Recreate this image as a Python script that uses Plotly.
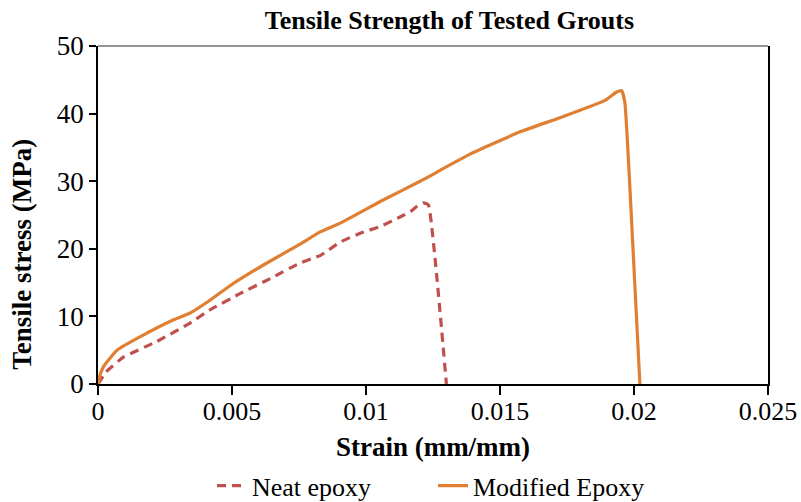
import plotly.graph_objects as go

# Data (strain mm/mm, stress MPa)
neat_strain = [0.0, 0.0003, 0.00096, 0.0022, 0.00343, 0.00415, 0.00531, 0.00643, 0.00754,
               0.00829, 0.00904, 0.00978, 0.01053, 0.01127, 0.01166, 0.01190, 0.01213,
               0.01233, 0.0130]
neat_stress = [0.0, 1.8, 4.0, 6.3, 9.0, 10.9, 13.4, 15.6, 17.9,
               19.0, 21.0, 22.3, 23.3, 24.7, 25.5, 26.3, 26.8,
               26.5, 0.0]

mod_strain = [0.0, 0.00005, 0.00021, 0.00071, 0.00158, 0.00282, 0.00344, 0.00411, 0.00506,
              0.0063, 0.00754, 0.00829, 0.00904, 0.01053, 0.01202, 0.01388, 0.01575,
              0.01724, 0.01894, 0.01935, 0.01954, 0.01966, 0.01994, 0.02022]
mod_stress = [0.0, 1.0, 2.6, 5.0, 7.0, 9.5, 10.5, 12.2, 14.9,
              17.9, 20.7, 22.5, 23.8, 27.0, 30.0, 34.0, 37.3,
              39.4, 42.0, 43.2, 43.4, 41.6, 21.8, 0.0]

x_ticks = [0, 0.005, 0.01, 0.015, 0.02, 0.025]
x_tick_labels = ["0", "0.005", "0.01", "0.015", "0.02", "0.025"]
y_ticks = [0, 10, 20, 30, 40, 50]

FONT = "Liberation Serif, Times New Roman, serif"

fig = go.Figure()
fig.add_trace(go.Scatter(
    x=neat_strain, y=neat_stress, mode="lines", name="Neat epoxy",
    line=dict(color="#C0504D", width=3.2, dash="9px,6px", shape="spline", smoothing=0.3),
))
fig.add_trace(go.Scatter(
    x=mod_strain, y=mod_stress, mode="lines", name="Modified Epoxy",
    line=dict(color="#E07F32", width=3.2, shape="spline", smoothing=0.4),
))

fig.update_layout(
    width=801, height=502,
    margin=dict(l=97.6, r=32.7, t=45.7, b=118, autoexpand=False),
    paper_bgcolor="white", plot_bgcolor="white",
    font=dict(family=FONT, size=27, color="black"),
    title=dict(text="<b>Tensile Strength of Tested Grouts</b>", x=0.561, xanchor="center",
               y=0.960, yanchor="middle", font=dict(family=FONT, size=26, color="black")),
    showlegend=True,
    legend=dict(orientation="h", x=0.50, xanchor="center", yref="container", y=0.0325,
                yanchor="middle", entrywidth=176, entrywidthmode="pixels",
                font=dict(family=FONT, size=26, color="black"),
                bgcolor="rgba(0,0,0,0)"),
)

fig.update_xaxes(
    range=[0, 0.025], tickvals=x_ticks, ticktext=x_tick_labels, automargin=False,
    showgrid=False, zeroline=False, showline=True, linecolor="black", linewidth=1.5,
    ticks="outside", ticklen=9, tickcolor="black", tickwidth=1.5,
    ticklabelstandoff=-6,
    tickfont=dict(family=FONT, size=26, color="black"),
    title=dict(text="<b>Strain (mm/mm)</b>", standoff=17, font=dict(family=FONT, size=27, color="black")),
)
fig.update_yaxes(
    range=[0, 50], tickvals=y_ticks, automargin=False,
    showgrid=False, zeroline=False, showline=True, linecolor="black", linewidth=1.5,
    mirror=True,
    ticks="outside", ticklen=7, tickcolor="black", tickwidth=1.5,
    tickfont=dict(family=FONT, size=27, color="black"),
)

# y axis title (placed slightly below the plot centre as in the reference)
fig.add_annotation(text="<b>Tensile stress (MPa)</b>", textangle=-90,
                   xref="paper", yref="paper", x=-0.1127, y=0.384,
                   xanchor="center", yanchor="middle", showarrow=False,
                   font=dict(family=FONT, size=27, color="black"))

# gray top border of the plot area
fig.add_shape(type="line", xref="paper", yref="paper", x0=0, x1=1, y0=1, y1=1,
              line=dict(color="#707070", width=1.5))

# remove the default page margin so the 801x502 figure fills the window exactly
fig.write_html("out.html",
               config={"displayModeBar": False},
               post_script="document.body.style.margin='0';"
                           "document.documentElement.style.overflow='hidden';"
                           "document.body.style.overflow='hidden';")
